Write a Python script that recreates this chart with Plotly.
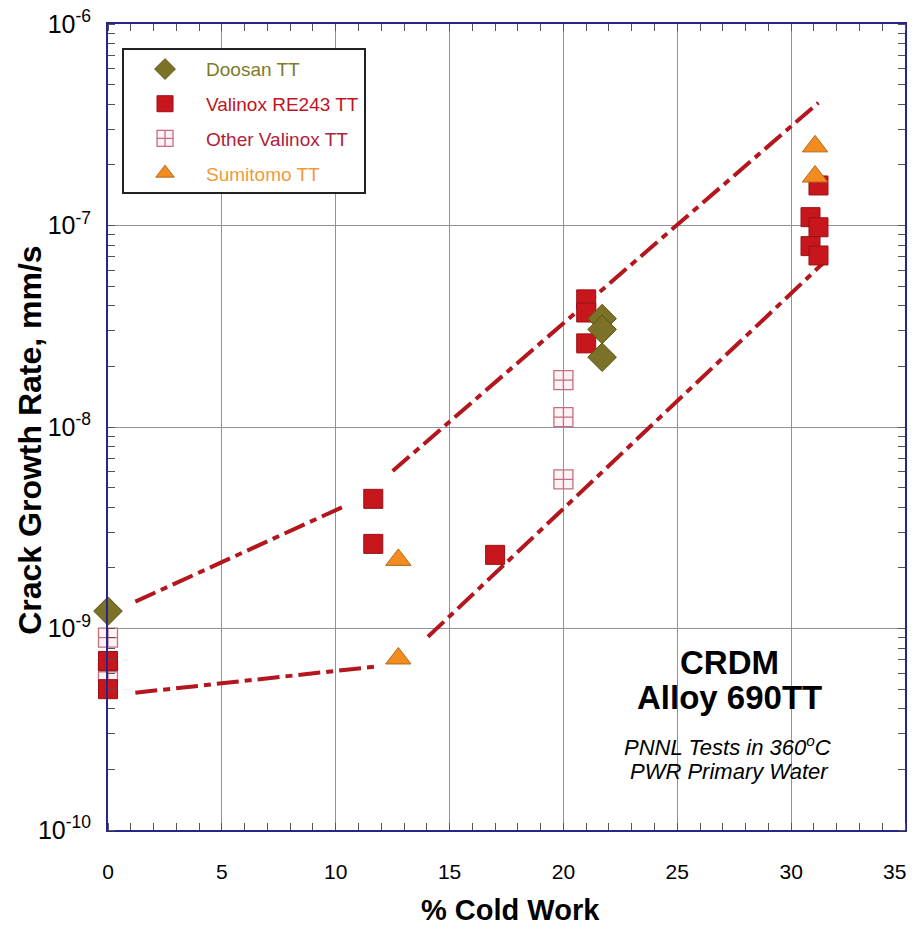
import plotly.graph_objects as go

# ---- data ----
doosan_x = [0.0, 21.7, 21.7, 21.7]
doosan_y = [1.22e-9, 3.45e-8, 3.05e-8, 2.22e-8]

valinox_x = [0.0, 0.0, 11.65, 11.65, 17.0, 21.0, 21.0, 21.0, 30.85, 31.2, 30.85, 31.2, 31.2]
valinox_y = [6.9e-10, 5.0e-10, 4.4e-9, 2.63e-9, 2.32e-9, 4.3e-8, 3.7e-8, 2.6e-8,
             1.10e-7, 9.8e-8, 7.9e-8, 7.1e-8, 1.58e-7]

other_x = [0.0, 0.0, 20.0, 20.0, 20.0]
other_y = [9.0e-10, 6.1e-10, 1.71e-8, 1.12e-8, 5.5e-9]

sumitomo_x = [12.75, 12.75, 31.05, 31.05]
sumitomo_y = [2.19e-9, 7.1e-10, 2.47e-7, 1.75e-7]

# bounding trend lines (four dashed segments)
upper1_x = [1.2, 10.5]
upper1_y = [1.36e-9, 4.1e-9]
upper2_x = [12.5, 31.2]
upper2_y = [6.05e-9, 4.07e-7]
lower1_x = [1.2, 11.9]
lower1_y = [4.8e-10, 6.5e-10]
lower2_x = [14.05, 31.4]
lower2_y = [9.1e-10, 6.5e-8]

x_ticks = [0, 5, 10, 15, 20, 25, 30, 35]
x_ticktext = ["0", "5", "10", "15", "20", "25", "30", ""]   # last label drawn below so it stays inside the page
x_last_label = "35"
y_tickvals = [1e-10, 1e-9, 1e-8, 1e-7, 1e-6]
y_ticktext = ["10<sup>-10</sup>", "10<sup>-9</sup>", "10<sup>-8</sup>", "10<sup>-7</sup>", "10<sup>-6</sup>"]

FONT = "Liberation Sans, Arial, sans-serif"
LINE_COLOR = "#b3161c"
DASH = "22px,6px,7px,6px"
AXIS_COLOR = "#26268a"
GRID_COLOR = "#9090a8"

fig = go.Figure()

for lx, ly in [(upper1_x, upper1_y), (upper2_x, upper2_y), (lower1_x, lower1_y), (lower2_x, lower2_y)]:
    fig.add_trace(go.Scatter(x=lx, y=ly, mode="lines", showlegend=False, hoverinfo="skip",
                             line=dict(color=LINE_COLOR, width=4, dash=DASH)))

fig.add_trace(go.Scatter(
    x=other_x, y=other_y, mode="markers", legendgroup="c", legendrank=3,
    name="<span style='color:#b0203a'>Other Valinox TT</span>",
    marker=dict(symbol="square-cross", size=19, color="#fff2f4",
                line=dict(color="#c07080", width=1.3)), cliponaxis=False))
fig.add_trace(go.Scatter(
    x=valinox_x, y=valinox_y, mode="markers", legendgroup="b", legendrank=2,
    name="<span style='color:#c0141e'>Valinox RE243 TT</span>",
    marker=dict(symbol="square", size=19, color="#c8161d",
                line=dict(color="#9a1015", width=1)), cliponaxis=False))
fig.add_trace(go.Scatter(
    x=doosan_x, y=doosan_y, mode="markers", legendgroup="a", legendrank=1,
    name="<span style='color:#7d7a2a'>Doosan TT</span>",
    marker=dict(symbol="diamond", size=22, color="#7b7228",
                line=dict(color="#5c5418", width=1)), cliponaxis=False))
fig.add_trace(go.Scatter(
    x=sumitomo_x, y=sumitomo_y, mode="markers", legendgroup="d", legendrank=4,
    name="<span style='color:#f09a3a'>Sumitomo TT</span>",
    marker=dict(symbol="triangle-up", size=22, color="#f28c1e",
                line=dict(color="#b06a20", width=1)), cliponaxis=False))

fig.update_layout(
    width=901, height=924,
    margin=dict(l=100, r=4, t=16, b=102, autoexpand=False),
    paper_bgcolor="white", plot_bgcolor="white",
    font=dict(family=FONT, color="black"),
    showlegend=True,
    legend=dict(x=0.0176, y=0.97, xanchor="left", yanchor="top",
                bgcolor="white", bordercolor="#222222", borderwidth=2,
                font=dict(size=19, family=FONT), tracegroupgap=7,
                traceorder="grouped", itemsizing="trace", itemwidth=72),
    xaxis=dict(range=[0, 35], tickvals=x_ticks, ticktext=x_ticktext, ticks="outside", ticklen=0,
               showgrid=True, gridcolor=GRID_COLOR, gridwidth=1,
               showline=True, linecolor=AXIS_COLOR, linewidth=2, mirror="allticks",
               tickfont=dict(size=21, family=FONT), ticklabelstandoff=22,
               ticklabeloverflow="allow",
               minor=dict(dtick=1, ticks="inside", ticklen=7, tickcolor="#555555", showgrid=False),
               title=dict(text=""),
               zeroline=False, automargin=False),
    yaxis=dict(type="log", range=[-10, -6], tickvals=y_tickvals, ticktext=y_ticktext,
               ticks="outside", ticklen=0,
               showgrid=True, gridcolor=GRID_COLOR, gridwidth=1,
               showline=True, linecolor=AXIS_COLOR, linewidth=2, mirror="allticks",
               tickfont=dict(size=25, family=FONT), ticklabelstandoff=10,
               ticklabeloverflow="allow",
               minor=dict(dtick="D1", ticks="inside", ticklen=7, tickcolor="#555555", showgrid=False),
               title=dict(text=""),
               zeroline=False, automargin=False),
)

# last x tick label, kept inside the page edge
fig.add_annotation(text=x_last_label, x=x_ticks[-1], xref="x", y=-0.0515, yref="paper",
                   xanchor="right", yanchor="middle", xshift=3, showarrow=False,
                   font=dict(size=21, family=FONT))

# axis titles
fig.add_annotation(text="<b>Crack Growth Rate, mm/s</b>", x=-0.098, y=0.484, xref="paper", yref="paper",
                   textangle=-90, xanchor="center", yanchor="middle", showarrow=False,
                   font=dict(size=32, family=FONT))
fig.add_annotation(text="<b>% Cold Work</b>", x=0.505, y=-0.099, xref="paper", yref="paper",
                   xanchor="center", yanchor="middle", showarrow=False,
                   font=dict(size=29, family=FONT))

# in-plot labels
fig.add_annotation(text="<b>CRDM</b>", x=0.78, y=0.2084, xref="paper", yref="paper",
                   xanchor="center", yanchor="middle",
                   showarrow=False, font=dict(size=33, family=FONT))
fig.add_annotation(text="<b>Alloy 690TT</b>", x=0.78, y=0.1638, xref="paper", yref="paper",
                   xanchor="center", yanchor="middle",
                   showarrow=False, font=dict(size=33, family=FONT))
fig.add_annotation(text="<i>PNNL Tests in 360<sup>o</sup>C</i>", x=0.777, y=0.1042, xref="paper", yref="paper",
                   xanchor="center", yanchor="middle",
                   showarrow=False, font=dict(size=22, family=FONT))
fig.add_annotation(text="<i>PWR Primary Water</i>", x=0.78, y=0.072, xref="paper", yref="paper",
                   xanchor="center", yanchor="middle",
                   showarrow=False, font=dict(size=22, family=FONT))

fig.write_html("out.html")
